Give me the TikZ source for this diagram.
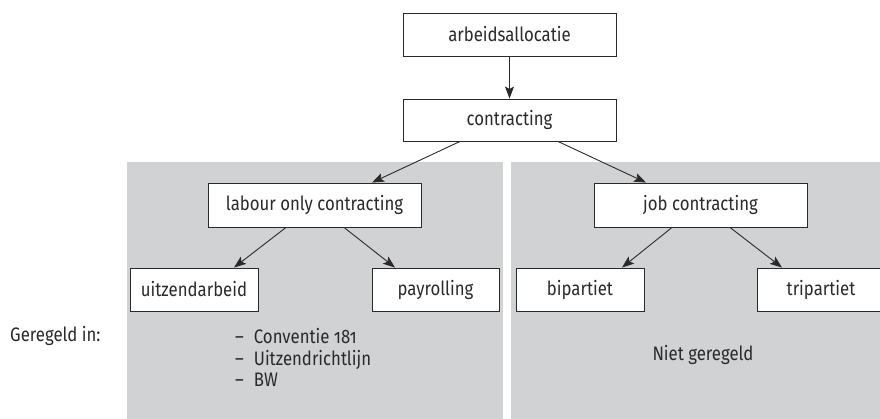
\documentclass[tikz,border=0pt]{standalone}
\usepackage{fontspec}
\setmainfont[Numbers=OldStyle,FakeStretch=0.86]{Fira Sans}
\usetikzlibrary{arrows.meta,calc}
\definecolor{panelgray}{HTML}{D1D2D4}
\definecolor{inkgray}{HTML}{2B2A2B}
\begin{document}
\begin{tikzpicture}[x=1pt,y=-1pt,
  box/.style={draw=inkgray,line width=0.9pt,fill=white,inner sep=0pt,text=inkgray,
    font=\fontsize{19.5}{22}\selectfont},
  conn/.style={draw=inkgray,line width=0.9pt,-{Stealth[length=12pt,width=9pt,inset=2.5pt]}},
  lbl/.style={text=inkgray,inner sep=0pt,font=\fontsize{19.5}{21.5}\selectfont}]
\useasboundingbox (0,0) rectangle (880,418);
\clip (0,0) rectangle (880,418);
% panels
\fill[panelgray] (127,162) rectangle (503,420);
\fill[panelgray] (511,162) rectangle (882,420);
% boxes
\node[box,minimum width=213pt,minimum height=43pt] (arb) at (509.5,34.5) {arbeidsallocatie};
\node[box,minimum width=213pt,minimum height=42pt] (con) at (509.5,120) {contracting};
\node[box,minimum width=213pt,minimum height=44pt] (loc) at (314.5,205) {labour only contracting};
\node[box,minimum width=213pt,minimum height=44pt] (job) at (700.5,205) {job contracting};
\node[box,minimum width=128pt,minimum height=43pt] (uitz) at (194,289.5) {uitzendarbeid};
\node[box,minimum width=127pt,minimum height=43pt] (pay) at (435.5,289.5) {payrolling};
\node[box,minimum width=128pt,minimum height=43pt] (bip) at (580,289.5) {bipartiet};
\node[box,minimum width=128pt,minimum height=43pt] (tri) at (821,289.5) {tripartiet};
% connectors
\draw[conn] (arb) -- (con);
\draw[conn] ($(con.south)+(-49.5,0)$) -- ($(loc.north)+(57.5,0)$);
\draw[conn] ($(con.south)+(48.5,0)$) -- ($(job.north)+(-54.5,0)$);
\draw[conn] ($(loc.south)+(-28.5,0)$) -- ($(uitz.north)+(40,0)$);
\draw[conn] ($(loc.south)+(29.5,0)$) -- ($(pay.north)+(-40.5,0)$);
\draw[conn] ($(job.south)+(-28.5,0)$) -- ($(bip.north)+(42,0)$);
\draw[conn] ($(job.south)+(29.5,0)$) -- ($(tri.north)+(-39,0)$);
% texts
\node[lbl,anchor=west] (ger) at (10,336) {Geregeld in:};
\node[lbl,anchor=west,align=left] (lst) at (235,361) {\begin{tabular}{@{}l@{\hspace{10pt}}l@{}}–&Conventie 181\\–&Uitzendrichtlijn\\–&BW\end{tabular}};
\node[lbl] (niet) at (703,355) {Niet geregeld};
\end{tikzpicture}
\end{document}
